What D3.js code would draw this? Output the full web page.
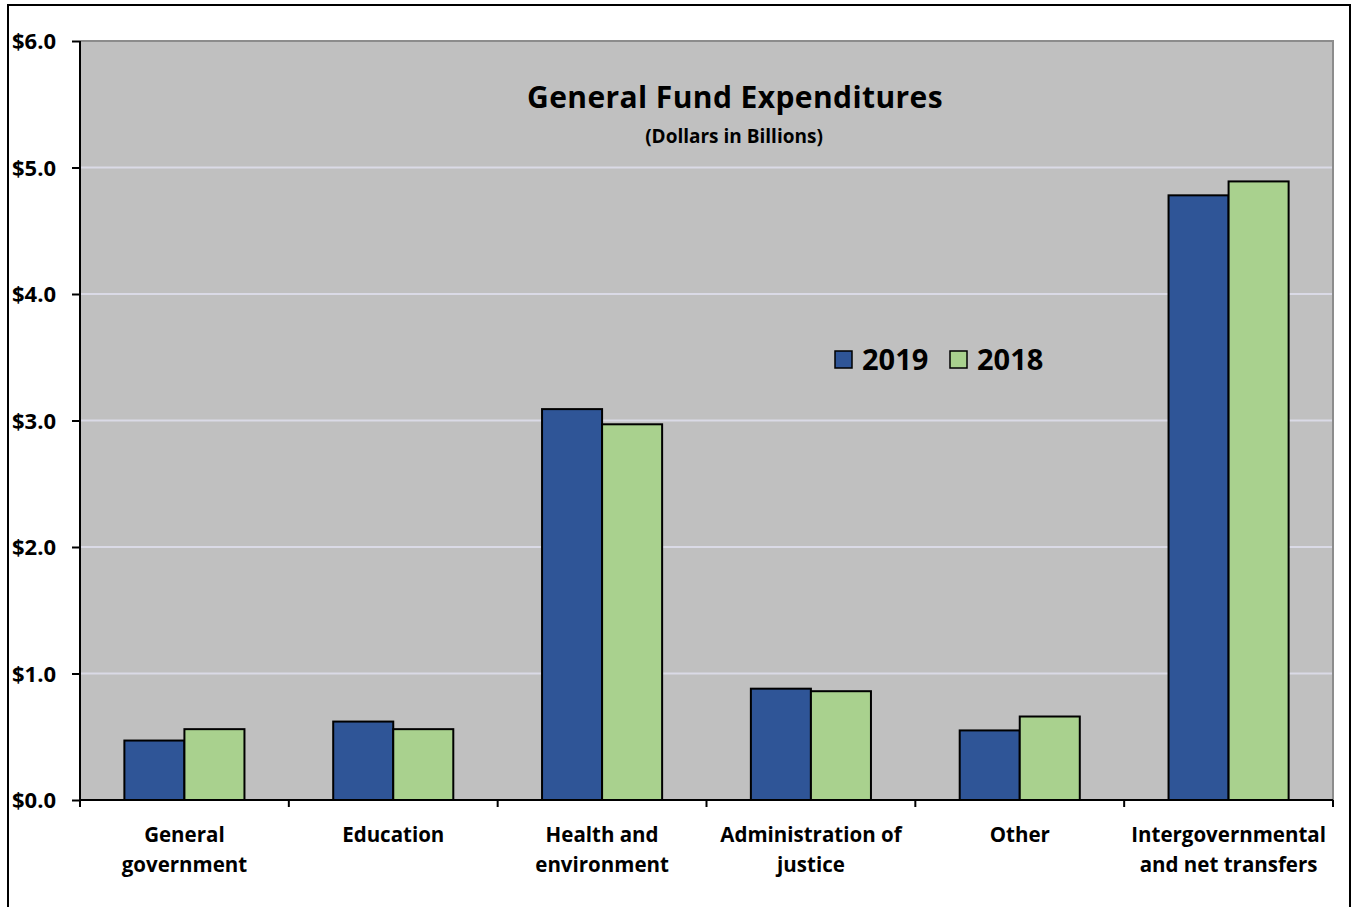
<!DOCTYPE html>
<html>
<head>
<meta charset="utf-8">
<script src="https://cdn.jsdelivr.net/npm/d3@7"></script>
<style>
  body { margin: 0; background: #fff; }
  text { font-family: "Open Sans", Carlito, Calibri, sans-serif; font-weight: bold; fill: #000; }
</style>
</head>
<body>
<div id="chart"></div>
<script>
// chart data
const categories = [
  ["General", "government"],
  ["Education"],
  ["Health and", "environment"],
  ["Administration of", "justice"],
  ["Other"],
  ["Intergovernmental", "and net transfers"]
]
const seriesNames = ["2019", "2018"]
const values2019 = [0.47, 0.62, 3.09, 0.88, 0.55, 4.78]
const values2018 = [0.56, 0.56, 2.97, 0.86, 0.66, 4.89]
const yTicks = [0, 1, 2, 3, 4, 5, 6]
const colors = ["#2F5597", "#A9D18E"]

var W = 1353, H = 907
var margin = {top: 41, right: 20, bottom: 107, left: 80},
    width = 1333 - margin.left,
    height = 800 - margin.top

var root = d3.select("#chart")
  .append("svg")
    .attr("width", W)
    .attr("height", H)

// outer frame
root.append("rect")
  .attr("x", 8).attr("y", 5)
  .attr("width", 1342).attr("height", 920)
  .attr("fill", "white")
  .attr("stroke", "#000")
  .attr("stroke-width", 2)

var svg = root.append("g")
  .attr("transform", "translate(" + margin.left + "," + margin.top + ")")

var x0 = d3.scaleBand()
  .domain(d3.range(categories.length))
  .range([0, width])
  .paddingInner(0.425)
  .paddingOuter(0.2125)

var x1 = d3.scaleBand()
  .domain(seriesNames)
  .range([0, x0.bandwidth()])

var y = d3.scaleLinear()
  .domain([0, 6])
  .range([height, 0])

// plot background
svg.append("rect")
  .attr("width", width)
  .attr("height", height)
  .attr("fill", "#C0C0C0")

// gridlines
svg.append("g")
  .selectAll("line")
  .data(yTicks.filter(d => d > 0 && d < 6))
  .enter()
  .append("line")
    .attr("x1", 0).attr("x2", width)
    .attr("y1", d => y(d)).attr("y2", d => y(d))
    .attr("stroke", "#DADAE6")
    .attr("stroke-width", 2)

// top / right border of plot
svg.append("path")
  .attr("d", "M0," + y(6) + "H" + width + "V" + height)
  .attr("fill", "none")
  .attr("stroke", "#8C8C8C")
  .attr("stroke-width", 2)

// bars
var series = [values2019, values2018]
var groups = svg.append("g")
  .selectAll("g")
  .data(categories.map((c, i) => i))
  .enter()
  .append("g")
    .attr("transform", d => "translate(" + x0(d) + ",0)")

groups.selectAll("rect")
  .data(i => seriesNames.map((s, k) => ({key: s, k: k, v: series[k][i]})))
  .enter()
  .append("rect")
    .attr("x", d => x1(d.key))
    .attr("y", d => y(d.v))
    .attr("width", x1.bandwidth())
    .attr("height", d => y(0) - y(d.v))
    .attr("fill", d => colors[d.k])
    .attr("stroke", "#000")
    .attr("stroke-width", 2)

// y axis
var yAxis = svg.append("g")
  .call(d3.axisLeft(y).tickValues(yTicks).tickSize(8).tickFormat(d => "$" + d3.format(".1f")(d)))
yAxis.select(".domain").attr("stroke", "#000").attr("stroke-width", 2).attr("d", "M0,0V" + height)
yAxis.selectAll(".tick line").attr("stroke", "#000").attr("stroke-width", 2)
yAxis.selectAll(".tick text")
  .attr("x", -68)
  .attr("text-anchor", "start")
  .attr("dy", "0.35em")
  .style("font-size", "22px")
  .style("font-family", "'Open Sans', Carlito, sans-serif")

// x axis line and boundary ticks
var xAxis = svg.append("g").attr("transform", "translate(0," + height + ")")
xAxis.append("line")
  .attr("x1", 0).attr("x2", width)
  .attr("stroke", "#000").attr("stroke-width", 2)
xAxis.selectAll(".bt")
  .data(d3.range(categories.length + 1))
  .enter()
  .append("line")
    .attr("x1", d => d * x0.step()).attr("x2", d => d * x0.step())
    .attr("y1", 0).attr("y2", 7)
    .attr("stroke", "#000").attr("stroke-width", 2)

// category labels
var lbl = xAxis.selectAll(".lbl")
  .data(categories)
  .enter()
  .append("text")
    .attr("text-anchor", "middle")
    .attr("transform", (d, i) => "translate(" + (x0(i) + x0.bandwidth() / 2) + ",0)")
    .style("font-size", "20.5px")
lbl.selectAll("tspan")
  .data(d => d)
  .enter()
  .append("tspan")
    .attr("x", 0)
    .attr("y", (d, j) => 42 + j * 30)
    .text(d => d)

// title
svg.append("text")
  .attr("x", 655)
  .attr("y", 67)
  .attr("text-anchor", "middle")
  .style("font-size", "30px")
  .style("letter-spacing", "0.4px")
  .text("General Fund Expenditures")

svg.append("text")
  .attr("x", 654)
  .attr("y", 102)
  .attr("text-anchor", "middle")
  .style("font-size", "19px")
  .text("(Dollars  in Billions)")

// legend
var legend = svg.append("g").attr("transform", "translate(755,310)")
var li = legend.selectAll("g")
  .data(seriesNames)
  .enter()
  .append("g")
    .attr("transform", (d, i) => "translate(" + (i * 115) + ",0)")
li.append("rect")
  .attr("width", 17).attr("height", 17)
  .attr("fill", (d, i) => colors[i])
  .attr("stroke", "#000").attr("stroke-width", 1.5)
li.append("text")
  .attr("x", 27)
  .attr("y", 19)
  .style("font-size", "29px")
  .text(d => d)
</script>
</body>
</html>
